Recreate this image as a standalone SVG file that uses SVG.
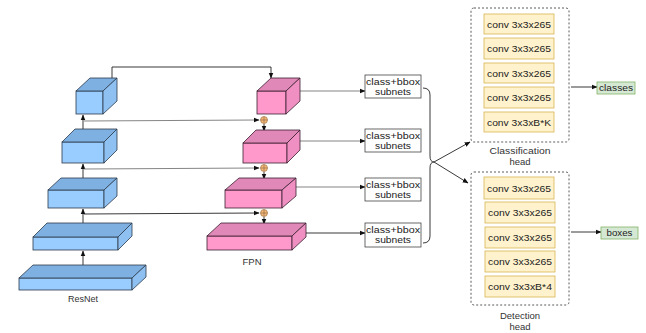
<svg xmlns="http://www.w3.org/2000/svg" width="646" height="333" viewBox="0 0 646 333">
<defs>
<marker id="ah" viewBox="0 0 10 10" refX="9" refY="5" markerWidth="6" markerHeight="6" orient="auto" markerUnits="userSpaceOnUse">
<path d="M0,1 L10,5 L0,9 Z" fill="#111"/>
</marker>
<style>
.bf{fill:#99CCFF;stroke:#2b3a4a;stroke-width:0.8}
.bt{fill:#7FB0E2;stroke:#2b3a4a;stroke-width:0.8}
.bs{fill:#8FC0F2;stroke:#2b3a4a;stroke-width:0.8}
.pf{fill:#FF99CC;stroke:#3a2030;stroke-width:0.8}
.pt{fill:#E088B8;stroke:#3a2030;stroke-width:0.8}
.ps{fill:#F090C2;stroke:#3a2030;stroke-width:0.8}
.ln{fill:none;stroke:#222;stroke-width:0.9}
.lg{fill:none;stroke:#777;stroke-width:0.9}
.sub{fill:#fff;stroke:#444;stroke-width:0.8}
.conv{fill:#FFF2CC;stroke:#D6B656;stroke-width:0.8}
.grn{fill:#D5E8D4;stroke:#82B366;stroke-width:0.8}
.dash{fill:none;stroke:#333;stroke-width:0.8;stroke-dasharray:2,2}
.t{font-family:"Liberation Sans",Arial,sans-serif;font-size:9px;fill:#222;text-anchor:middle}
.lb{font-family:"Liberation Sans",Arial,sans-serif;font-size:9.5px;fill:#333;text-anchor:middle}
.plus{fill:#F2B97A;stroke:#9a6a3a;stroke-width:0.6}
</style>
</defs>

<g id="connectors">
<line class="ln" x1="83" y1="265" x2="83" y2="251" marker-end="url(#ah)"/>
<line class="ln" x1="83" y1="223" x2="83" y2="209" marker-end="url(#ah)"/>
<line class="ln" x1="83" y1="178" x2="83" y2="164" marker-end="url(#ah)"/>
<line class="ln" x1="83" y1="129" x2="83" y2="115" marker-end="url(#ah)"/>
<polyline class="ln" points="112,78 112,67 271,67 271,78" marker-end="url(#ah)"/>
<line class="lg" x1="84" y1="121" x2="259" y2="120" marker-end="url(#ah)"/>
<line class="lg" x1="84" y1="169" x2="259" y2="168" marker-end="url(#ah)"/>
<line class="ln" x1="84" y1="214" x2="259" y2="213" marker-end="url(#ah)"/>
<line class="ln" x1="264" y1="124" x2="264" y2="131" marker-end="url(#ah)"/>
<line class="ln" x1="264" y1="172" x2="264" y2="179" marker-end="url(#ah)"/>
<line class="ln" x1="264" y1="217" x2="264" y2="224" marker-end="url(#ah)"/>
<line class="lg" x1="299" y1="91" x2="365" y2="91" marker-end="url(#ah)"/>
<line class="lg" x1="300" y1="141" x2="365" y2="141" marker-end="url(#ah)"/>
<line class="lg" x1="296" y1="187" x2="365" y2="187" marker-end="url(#ah)"/>
<line class="ln" x1="306" y1="233" x2="365" y2="233" marker-end="url(#ah)"/>
<path class="ln" d="M423,88 Q430,88 430,95 L430,156 Q430,162 434,162 Q430,162 430,168 L430,236 Q430,243 423,243"/>
<line class="ln" x1="434" y1="162" x2="470" y2="142" marker-end="url(#ah)"/>
<line class="ln" x1="434" y1="162" x2="468" y2="183" marker-end="url(#ah)"/>
<line class="ln" x1="571" y1="87" x2="597" y2="87" marker-end="url(#ah)"/>
<line class="ln" x1="571" y1="232" x2="601" y2="232" marker-end="url(#ah)"/>
</g>

<g id="resnet1">
<rect class="bf" x="76" y="91" width="27" height="23"/>
<polygon class="bt" points="76,91 90,78 117,78 103,91"/>
<polygon class="bs" points="103,91 117,78 117,101 103,114"/>
</g>
<g id="resnet2">
<rect class="bf" x="62" y="142" width="42" height="21"/>
<polygon class="bt" points="62,142 75,129 117,129 104,142"/>
<polygon class="bs" points="104,142 117,129 117,150 104,163"/>
</g>
<g id="resnet3">
<rect class="bf" x="48" y="190" width="56" height="18"/>
<polygon class="bt" points="48,190 61,178 117,178 104,190"/>
<polygon class="bs" points="104,190 117,178 117,196 104,208"/>
</g>
<g id="resnet4">
<rect class="bf" x="33" y="237" width="85" height="13"/>
<polygon class="bt" points="33,237 47,223 132,223 118,237"/>
<polygon class="bs" points="118,237 132,223 132,236 118,250"/>
</g>
<g id="resnet5">
<rect class="bf" x="19" y="278" width="113" height="12"/>
<polygon class="bt" points="19,278 33,265 146,265 132,278"/>
<polygon class="bs" points="132,278 146,265 146,277 132,290"/>
</g>
<text class="lb" x="83" y="302" textLength="30" lengthAdjust="spacingAndGlyphs">ResNet</text>

<g id="fpn1">
<rect class="pf" x="257" y="91" width="29" height="23"/>
<polygon class="pt" points="257,91 271,78 300,78 286,91"/>
<polygon class="ps" points="286,91 300,78 300,101 286,114"/>
</g>
<g id="fpn2">
<rect class="pf" x="243" y="143" width="44" height="20"/>
<polygon class="pt" points="243,143 256,130 300,130 287,143"/>
<polygon class="ps" points="287,143 300,130 300,150 287,163"/>
</g>
<g id="fpn3">
<rect class="pf" x="225" y="190" width="57" height="18"/>
<polygon class="pt" points="225,190 239,178 296,178 282,190"/>
<polygon class="ps" points="282,190 296,178 296,196 282,208"/>
</g>
<g id="fpn4">
<rect class="pf" x="207" y="236" width="85" height="14"/>
<polygon class="pt" points="207,236 221,223 306,223 292,236"/>
<polygon class="ps" points="292,236 306,223 306,237 292,250"/>
</g>
<text class="lb" x="252" y="265">FPN</text>

<g id="plus1"><circle class="plus" cx="264" cy="120" r="3.5"/><path d="M260.5,120 H267.5 M264,116.5 V123.5" stroke="#7a5030" stroke-width="0.5"/></g>
<g id="plus2"><circle class="plus" cx="264" cy="168" r="3.5"/><path d="M260.5,168 H267.5 M264,164.5 V171.5" stroke="#7a5030" stroke-width="0.5"/></g>
<g id="plus3"><circle class="plus" cx="264" cy="213" r="3.5"/><path d="M260.5,213 H267.5 M264,209.5 V216.5" stroke="#7a5030" stroke-width="0.5"/></g>

<g id="subnet1"><rect class="sub" x="365" y="75" width="56" height="23"/><text class="t" x="393" y="85" textLength="54" lengthAdjust="spacingAndGlyphs">class+bbox</text><text class="t" x="393" y="95" textLength="36" lengthAdjust="spacingAndGlyphs">subnets</text></g>
<g id="subnet2"><rect class="sub" x="365" y="129" width="56" height="23"/><text class="t" x="393" y="139" textLength="54" lengthAdjust="spacingAndGlyphs">class+bbox</text><text class="t" x="393" y="149" textLength="36" lengthAdjust="spacingAndGlyphs">subnets</text></g>
<g id="subnet3"><rect class="sub" x="365" y="178" width="56" height="23"/><text class="t" x="393" y="188" textLength="54" lengthAdjust="spacingAndGlyphs">class+bbox</text><text class="t" x="393" y="198" textLength="36" lengthAdjust="spacingAndGlyphs">subnets</text></g>
<g id="subnet4"><rect class="sub" x="365" y="223" width="56" height="24"/><text class="t" x="393" y="233" textLength="54" lengthAdjust="spacingAndGlyphs">class+bbox</text><text class="t" x="393" y="243" textLength="36" lengthAdjust="spacingAndGlyphs">subnets</text></g>

<g id="classification-head">
<rect class="dash" x="471" y="8" width="98" height="134" rx="3"/>
<rect class="conv" x="484" y="14" width="70" height="20"/><text class="t" x="519" y="27.5" textLength="64" lengthAdjust="spacingAndGlyphs">conv 3x3x265</text>
<rect class="conv" x="484" y="38" width="70" height="21"/><text class="t" x="519" y="52" textLength="64" lengthAdjust="spacingAndGlyphs">conv 3x3x265</text>
<rect class="conv" x="484" y="63" width="70" height="20"/><text class="t" x="519" y="76.5" textLength="64" lengthAdjust="spacingAndGlyphs">conv 3x3x265</text>
<rect class="conv" x="484" y="87" width="70" height="21"/><text class="t" x="519" y="101" textLength="64" lengthAdjust="spacingAndGlyphs">conv 3x3x265</text>
<rect class="conv" x="484" y="112" width="70" height="20"/><text class="t" x="519" y="125.5" textLength="64" lengthAdjust="spacingAndGlyphs">conv 3x3xB*K</text>
<text class="lb" x="520" y="154" textLength="61" lengthAdjust="spacingAndGlyphs">Classification</text>
<text class="lb" x="520" y="165">head</text>
</g>

<g id="detection-head">
<rect class="dash" x="471" y="172" width="98" height="133" rx="3"/>
<rect class="conv" x="484" y="177" width="70" height="22"/><text class="t" x="519" y="191.5" textLength="64" lengthAdjust="spacingAndGlyphs">conv 3x3x265</text>
<rect class="conv" x="485" y="202" width="70" height="21"/><text class="t" x="520" y="216" textLength="64" lengthAdjust="spacingAndGlyphs">conv 3x3x265</text>
<rect class="conv" x="485" y="227" width="70" height="21"/><text class="t" x="520" y="241" textLength="64" lengthAdjust="spacingAndGlyphs">conv 3x3x265</text>
<rect class="conv" x="485" y="251" width="70" height="21"/><text class="t" x="520" y="265" textLength="64" lengthAdjust="spacingAndGlyphs">conv 3x3x265</text>
<rect class="conv" x="485" y="276" width="70" height="21"/><text class="t" x="520" y="290" textLength="64" lengthAdjust="spacingAndGlyphs">conv 3x3xB*4</text>
<text class="lb" x="520" y="319">Detection</text>
<text class="lb" x="520" y="330">head</text>
</g>

<g id="classes"><rect class="grn" x="597" y="82" width="38" height="12"/><text class="t" x="616" y="91" textLength="34" lengthAdjust="spacingAndGlyphs">classes</text></g>
<g id="boxes"><rect class="grn" x="601" y="227" width="37" height="12"/><text class="t" x="619.5" y="236" textLength="26" lengthAdjust="spacingAndGlyphs">boxes</text></g>
</svg>
